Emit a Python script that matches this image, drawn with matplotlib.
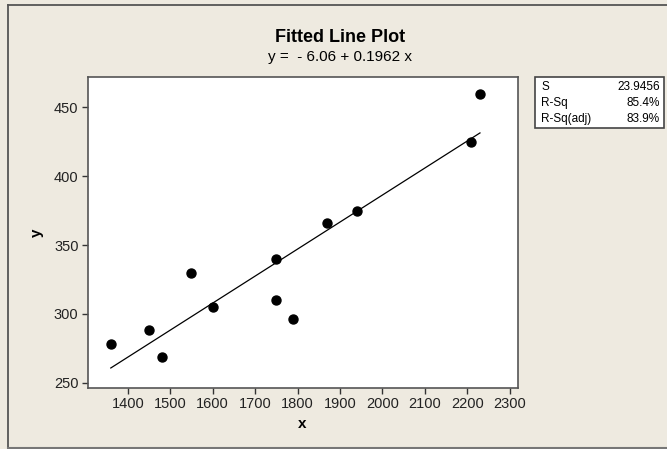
import matplotlib
matplotlib.use('Agg')
import matplotlib.pyplot as plt
from matplotlib.patches import Rectangle
import numpy as np

# data
x_vals = [1360, 1450, 1480, 1550, 1600, 1750, 1750, 1790, 1870, 1940, 2210, 2230]
y_vals = [278, 288, 269, 330, 305, 340, 310, 296, 366, 375, 425, 460]
intercept = -6.06
slope = 0.1962
stat_names = ['S', 'R-Sq', 'R-Sq(adj)']
stat_values = ['23.9456', '85.4%', '83.9%']
x_ticks = list(range(1400, 2301, 100))
y_ticks = [250, 300, 350, 400, 450]

plt.rcParams['font.family'] = ['Liberation Sans', 'DejaVu Sans']

W, H = 667, 449
bg = '#EEEAE0'
fig = plt.figure(figsize=(W / 100, H / 100), dpi=100, facecolor=bg)

# outer frame (top, left, bottom)
fig.add_artist(plt.Line2D([8 / W, 8 / W], [1 - 4.7 / H, 1 - 448 / H], color='#555555', lw=1.3))
fig.add_artist(plt.Line2D([8 / W, 1.0], [1 - 4.7 / H, 1 - 4.7 / H], color='#555555', lw=1.3))
fig.add_artist(plt.Line2D([8 / W, 1.0], [1 - 448 / H, 1 - 448 / H], color='#777777', lw=1.5))

# axes placed in pixel coords
l, r, t, b = 88.3, 518, 76.7, 387.5
ax = fig.add_axes([l / W, 1 - b / H, (r - l) / W, (b - t) / H])
ax.set_facecolor('white')

ax.scatter(x_vals, y_vals, s=42, color='black', zorder=3)
xs = np.array([min(x_vals), max(x_vals)])
ax.plot(xs, intercept + slope * xs, color='black', lw=0.9)

ax.set_xlim(1307, 2319.6)
ax.set_ylim(246.6, 472.3)
ax.set_xticks(x_ticks)
ax.set_yticks(y_ticks)
ax.tick_params(direction='out', length=4, width=1, color='#333333',
               labelsize=10.5, pad=3, labelcolor='#222222')
for sp in ax.spines.values():
    sp.set_color('#555555')
    sp.set_linewidth(1.2)

fig.text(37 / W, 1 - 233 / H, 'y', rotation=90, ha='center', va='center',
         fontsize=11, fontweight='bold')
fig.text(302 / W, 1 - 424 / H, 'x', ha='center', va='center',
         fontsize=11, fontweight='bold')

# title + fitted equation
fig.text(340.5 / W, 1 - 37 / H, 'Fitted Line Plot', ha='center', va='center',
         fontsize=13, fontweight='bold')
fig.text(340.5 / W, 1 - 57 / H, f'y =  - {abs(intercept):.2f} + {slope} x',
         ha='center', va='center', fontsize=11)

# stats box
bx0, bx1, by0, by1 = 535, 664, 77, 128
fig.add_artist(Rectangle((bx0 / W, 1 - by1 / H), (bx1 - bx0) / W, (by1 - by0) / H,
                         transform=fig.transFigure, facecolor='white',
                         edgecolor='#444444', lw=1.2))
row_y = [87, 103.3, 119.3]
for name, val, yy in zip(stat_names, stat_values, row_y):
    fig.text(541 / W, 1 - yy / H, name, ha='left', va='center', fontsize=8.5)
    fig.text(660 / W, 1 - yy / H, val, ha='right', va='center', fontsize=8.5)

plt.savefig('out.png', dpi=100, facecolor=bg)
